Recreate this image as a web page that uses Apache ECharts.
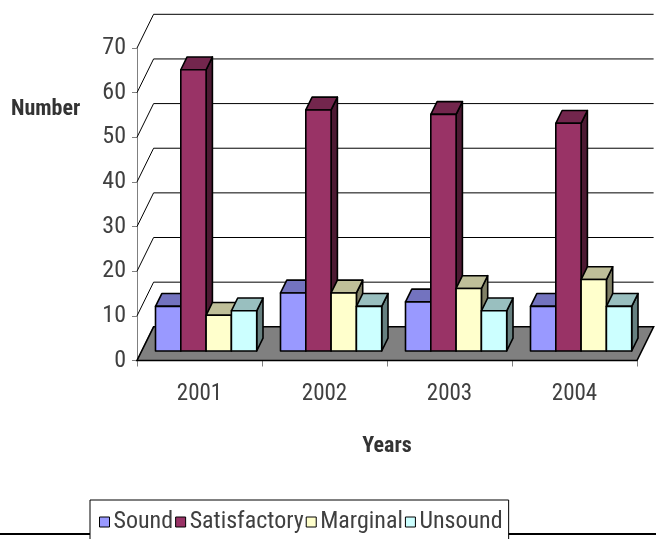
<!DOCTYPE html>
<html>
<head>
<meta charset="utf-8">
<script src="https://cdn.jsdelivr.net/npm/echarts@6/dist/echarts.min.js"></script>
<style>
  html, body { margin: 0; padding: 0; background: #ffffff; }
  #chart { width: 656px; height: 539px; }
</style>
</head>
<body>
<div id="chart"></div>
<script>
// ---- data ----
const categories = ['2001', '2002', '2003', '2004'];
const sound        = [10, 13, 11, 10];
const satisfactory = [63, 54, 53, 51];
const marginal     = [8, 13, 14, 16];
const unsound      = [9, 10, 9, 10];
const yTicks = [0, 10, 20, 30, 40, 50, 60, 70];
const seriesNames = ['Sound', 'Satisfactory', 'Marginal', 'Unsound'];

// ---- styling / layout constants ----
const FONT = "'Roboto Condensed', 'Archivo Narrow', 'Liberation Sans', sans-serif";
const WALL_DX = 16.6, WALL_DY = -33.7;       // depth of floor / back wall
const FRONT_DY = -9.5;                       // bar front face sits behind front edge
const BAR_DX = 6.3, BAR_DY = -12.8;          // bar depth
const GROUP_START = 0.148, BAR_W = 0.2024;   // fractions of category width
const palette = [
  { front: '#9999FF', top: '#7373BF', side: '#5C5C99' },
  { front: '#993366', top: '#73264D', side: '#4D1A33' },
  { front: '#FFFFCC', top: '#BFBF99', side: '#808066' },
  { front: '#CCFFFF', top: '#99BFBF', side: '#668080' }
];
const seriesData = [sound, satisfactory, marginal, unsound];

function barRenderer(k) {
  const c = palette[k];
  return function (params, api) {
    const i = api.value(0), v = api.value(1);
    const catW = api.size([1, 0])[0];
    const base = api.coord([i, 0]);
    const top = api.coord([i, v]);
    const catStart = base[0] - catW / 2;
    const x0 = catStart + (GROUP_START + k * BAR_W) * catW;
    const x1 = x0 + BAR_W * catW;
    const yb = base[1] + FRONT_DY;
    const yt = top[1] + FRONT_DY;
    const stroke = { stroke: '#000', lineWidth: 1.6, lineJoin: 'round' };
    return {
      type: 'group',
      children: [
        { type: 'polygon', shape: { points: [[x1, yt], [x1 + BAR_DX, yt + BAR_DY], [x1 + BAR_DX, yb + BAR_DY], [x1, yb]] },
          style: Object.assign({ fill: c.side }, stroke) },
        { type: 'polygon', shape: { points: [[x0, yt], [x0 + BAR_DX, yt + BAR_DY], [x1 + BAR_DX, yt + BAR_DY], [x1, yt]] },
          style: Object.assign({ fill: c.top }, stroke) },
        { type: 'polygon', shape: { points: [[x0, yt], [x1, yt], [x1, yb], [x0, yb]] },
          style: Object.assign({ fill: c.front }, stroke) }
      ]
    };
  };
}

function wallRenderer(params, api) {
  const cs = params.coordSys;
  const y = api.coord([0, api.value(1)])[1];
  return {
    type: 'group',
    children: [
      { type: 'line', shape: { x1: cs.x + WALL_DX, y1: y + WALL_DY, x2: cs.x + cs.width + WALL_DX, y2: y + WALL_DY },
        style: { stroke: '#000', lineWidth: 1 } },
      { type: 'line', shape: { x1: cs.x, y1: y, x2: cs.x + WALL_DX, y2: y + WALL_DY },
        style: { stroke: '#000', lineWidth: 1 } }
    ]
  };
}

function floorRenderer(params, api) {
  const cs = params.coordSys;
  const y = api.coord([0, api.value(1)])[1];
  return {
    type: 'polygon',
    shape: { points: [[cs.x, y], [cs.x + cs.width, y], [cs.x + cs.width + WALL_DX, y + WALL_DY], [cs.x + WALL_DX, y + WALL_DY]] },
    style: { fill: '#808080', stroke: '#000', lineWidth: 1.6 }
  };
}

const chart = echarts.init(document.getElementById('chart'), null, { renderer: 'canvas' });

const series = [
  { type: 'custom', name: 'wall', silent: true, z: 1, clip: false,
    data: yTicks.map(v => [0, v]), encode: { x: 0, y: 1 }, renderItem: wallRenderer },
  { type: 'custom', name: 'floor', silent: true, z: 2, clip: false,
    data: [[0, 0]], encode: { x: 0, y: 1 }, renderItem: floorRenderer }
];
seriesData.forEach((arr, k) => {
  series.push({
    type: 'custom', name: seriesNames[k], z: 3, clip: false, silent: true,
    itemStyle: { color: palette[k].front },
    data: arr.map((v, i) => [i, v]), encode: { x: 0, y: 1 },
    renderItem: barRenderer(k)
  });
});

chart.setOption({
  animation: false,
  backgroundColor: '#ffffff',
  grid: { left: 137, right: 19, top: 48, bottom: 178.5, containLabel: false },
  xAxis: {
    type: 'category', data: categories, boundaryGap: true,
    axisLine: { show: false },
    axisTick: { show: true, length: 6, interval: 0, lineStyle: { color: '#808080' } },
    axisLabel: { margin: 22, fontSize: 23, fontFamily: FONT, color: '#404040' },
    name: 'Years', nameLocation: 'middle', nameGap: 75,
    nameTextStyle: { fontSize: 22, fontWeight: 'bold', fontFamily: FONT, color: '#333' },
    splitLine: { show: false }
  },
  yAxis: {
    type: 'value', min: 0, max: 70, interval: 10,
    axisLine: { show: true, lineStyle: { color: '#808080' } },
    axisTick: { show: true, length: 5, lineStyle: { color: '#808080' } },
    axisLabel: { margin: 11, fontSize: 24, fontFamily: FONT, color: '#404040' },
    splitLine: { show: false }
  },
  legend: {
    data: seriesNames.map((n, k) => ({ name: n, icon: 'rect', itemStyle: { color: palette[k].front, borderColor: '#000', borderWidth: 1 } })),
    left: 90, top: 500, orient: 'horizontal',
    itemWidth: 10, itemHeight: 10, itemGap: 2,
    padding: [10, 6, 20, 9],
    borderColor: '#000', borderWidth: 1, backgroundColor: '#fff',
    textStyle: { fontSize: 24, fontFamily: FONT, color: '#404040', padding: [0, 0, 0, -1] },
    selectedMode: false
  },
  graphic: [
    { type: 'line', z: 0, shape: { x1: 0, y1: 534, x2: 656, y2: 534 }, style: { stroke: '#000', lineWidth: 2 } },
    { type: 'text', x: 11, y: 109.5, style: { text: 'Number', fontSize: 22, fontWeight: 'bold', fontFamily: FONT, fill: '#333', verticalAlign: 'middle' } }
  ],
  series: series
});
</script>
</body>
</html>
